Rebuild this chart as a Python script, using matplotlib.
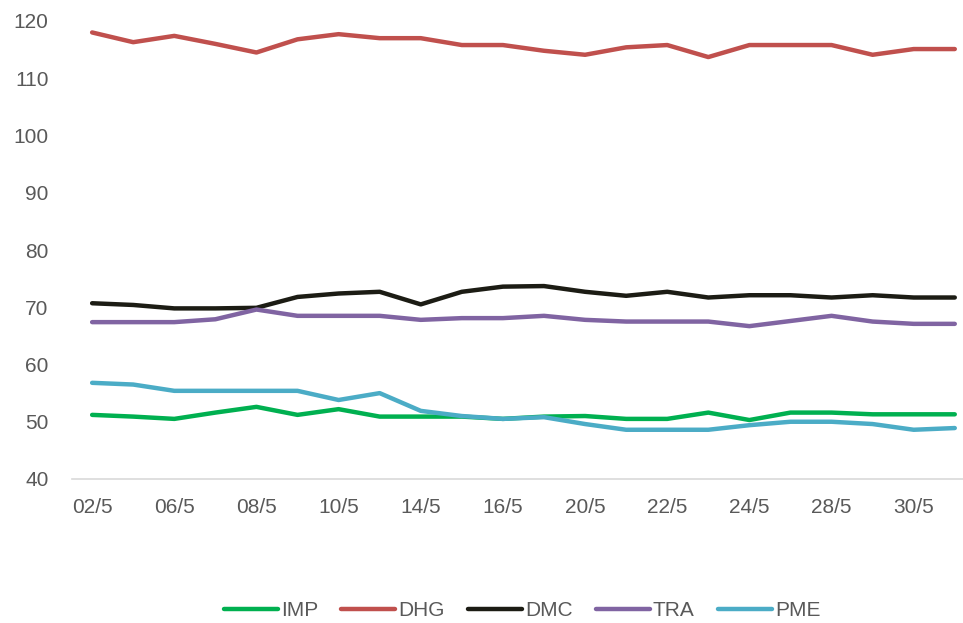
import matplotlib
matplotlib.use('Agg')
import matplotlib.pyplot as plt

dates = ['02/5', '03/5', '06/5', '07/5', '08/5', '09/5', '10/5', '13/5', '14/5', '15/5', '16/5',
         '17/5', '20/5', '21/5', '22/5', '23/5', '24/5', '27/5', '28/5', '29/5', '30/5', '31/5']

imp = [51.2, 50.9, 50.5, 51.6, 52.6, 51.2, 52.2, 50.9, 50.9, 50.9, 50.5,
       50.9, 51.0, 50.5, 50.5, 51.6, 50.3, 51.6, 51.6, 51.3, 51.3, 51.3]
dhg = [118.0, 116.3, 117.4, 116.0, 114.5, 116.8, 117.7, 117.0, 117.0, 115.8, 115.8,
       114.8, 114.1, 115.4, 115.8, 113.7, 115.8, 115.8, 115.8, 114.1, 115.1, 115.1]
dmc = [70.7, 70.4, 69.8, 69.8, 69.9, 71.8, 72.4, 72.7, 70.5, 72.7, 73.6,
       73.7, 72.7, 72.0, 72.7, 71.7, 72.1, 72.1, 71.7, 72.1, 71.7, 71.7]
tra = [67.4, 67.4, 67.4, 67.9, 69.6, 68.5, 68.5, 68.5, 67.8, 68.1, 68.1,
       68.5, 67.8, 67.5, 67.5, 67.5, 66.7, 67.6, 68.5, 67.5, 67.1, 67.1]
pme = [56.8, 56.5, 55.4, 55.4, 55.4, 55.4, 53.8, 55.0, 51.9, 51.0, 50.5,
       50.8, 49.6, 48.6, 48.6, 48.6, 49.4, 50.0, 50.0, 49.6, 48.6, 48.9]

series = [('IMP', imp, '#00B050'), ('DHG', dhg, '#C0504D'), ('DMC', dmc, '#1C1C14'),
          ('TRA', tra, '#8064A2'), ('PME', pme, '#4BACC6')]

plt.rcParams['font.family'] = ['Liberation Sans', 'DejaVu Sans']

fig = plt.figure(figsize=(9.63, 6.23), dpi=100)
ax = fig.add_axes([72 / 963, 1 - 479 / 623, 891 / 963, 458 / 623])

x = list(range(len(dates)))
for name, vals, col in series:
    ax.plot(x, vals, color=col, lw=3.2, label=name, solid_capstyle='round')

ax.set_ylim(40, 120)
ax.set_yticks(range(40, 121, 10))
ax.set_xlim(-0.49, 21.2)
ax.set_xticks(x[::2])
ax.set_xticklabels(dates[::2])
ax.tick_params(length=0, labelsize=15, colors='#595959')
ax.tick_params(axis='x', pad=14)
ax.tick_params(axis='y', pad=17)
for s in ['top', 'right', 'left']:
    ax.spines[s].set_visible(False)
ax.spines['bottom'].set_color('#D9D9D9')
ax.spines['bottom'].set_linewidth(1.2)

leg = fig.legend(loc='center', bbox_to_anchor=(522 / 963, 1 - 611 / 623), ncol=5, frameon=False,
                 fontsize=15, handlelength=2.6, handletextpad=0.15, columnspacing=1.1)
for t in leg.get_texts():
    t.set_color('#595959')

fig.savefig('out.png', dpi=100)
